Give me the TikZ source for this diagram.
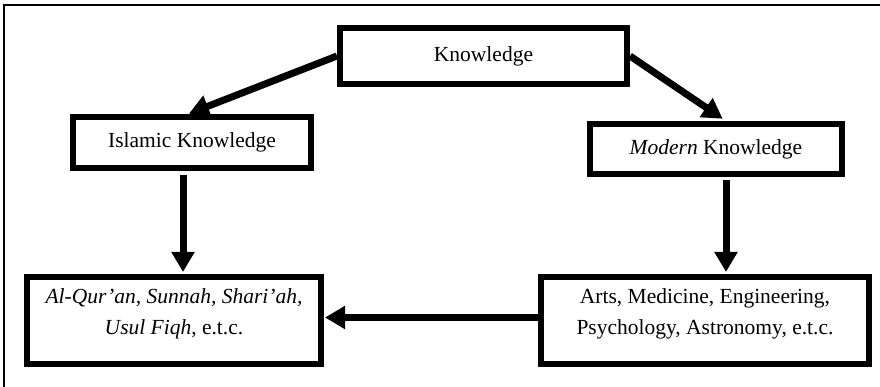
\documentclass[tikz,border=0pt]{standalone}
\usepackage{fontspec}
\setmainfont{Liberation Serif}
\usetikzlibrary{arrows.meta}

\begin{document}
\begin{tikzpicture}[x=1pt, y=-1pt,
		box/.style={draw, line width=6pt, fill=white, inner sep=0pt},
		arr/.style={line width=7pt, -{Triangle[length=20pt,width=22pt]}},
		every node/.style={font=\fontsize{21.5}{31}\selectfont}]
			
			\clip (0,0) rectangle (880,387);
			\draw[line width=2pt] (4,5) rectangle (900,400);
			
			\node[box, minimum width=287pt, minimum height=56pt] (know) at (483.5,56) {Knowledge};
			\node[box, minimum width=238pt, minimum height=51pt] (isl) at (192,142.5) {Islamic Knowledge};
			\node[box, minimum width=252pt, minimum height=50pt] (mod) at (716,149) {\textit{Modern} Knowledge};
			
			\node[box, minimum width=294pt, minimum height=87pt] (quran) at (174,320.5) {};
			\node[anchor=north, align=center, inner sep=0pt] (qurantext) at ([yshift=-14pt]quran.north)
				{\textit{Al-Qur’an, Sunnah, Shari’ah,}\\\textit{Usul Fiqh}, e.t.c.};
			\node[box, minimum width=328pt, minimum height=87pt] (arts) at (705,320.5) {};
			\node[anchor=north, align=center, inner sep=0pt] (artstext) at ([yshift=-14pt]arts.north)
				{Arts, Medicine, Engineering,\\Psychology, Astronomy, e.t.c.};
			
			\draw[arr, shorten >=1pt] (know.west) -- ([xshift=-4pt]isl.north);
			\draw[arr, shorten >=4pt] (know.east) -- ([xshift=10pt]mod.north);
			\draw[arr, shorten <=4pt, shorten >=2pt] ([xshift=-9pt]isl.south) -- ([xshift=-9pt]isl.south |- quran.north);
			\draw[arr, shorten <=3pt, shorten >=2pt] ([xshift=10pt]mod.south) -- ([xshift=10pt]mod.south |- arts.north);
			\draw[arr, shorten >=1pt] ([yshift=3pt]arts.west) -- ([yshift=3pt]quran.east);
			
		\end{tikzpicture}
\end{document}
